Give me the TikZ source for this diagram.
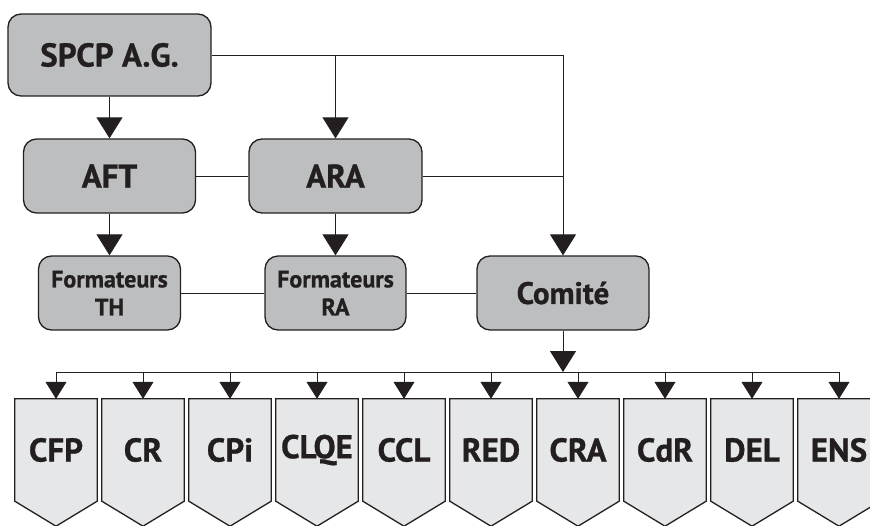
\documentclass[tikz,border=0pt]{standalone}
\usepackage{fontspec}
\setmainfont{PT Sans}[BoldFeatures={FakeBold=0.8}]
\usetikzlibrary{arrows.meta,calc,backgrounds}
\definecolor{boxdark}{HTML}{BCBEC0}
\definecolor{boxlight}{HTML}{E6E7E8}
\definecolor{ink}{HTML}{231F20}
\begin{document}
\begin{tikzpicture}[x=1pt,y=-1pt,
  topbox/.style={draw=ink, line width=1.3pt, fill=boxdark, rounded corners=13pt,
    text=ink, font=\bfseries\fontsize{33}{38}\selectfont, inner sep=0pt, align=center},
  midbox/.style={topbox, font=\bfseries\fontsize{24}{28}\selectfont},
  botbox/.style={text=ink, font=\bfseries\fontsize{33}{38}\selectfont, inner sep=0pt,
    minimum width=82pt, minimum height=102pt},
  botshape/.style={draw=ink, line width=1.3pt, fill=boxlight},
  conn/.style={draw=ink, line width=1pt},
  bigarrow/.style={conn, -{Triangle[width=26pt,length=21pt]}},
  smallarrow/.style={conn, -{Triangle[width=21pt,length=17pt]}}]
\useasboundingbox (0,0) rectangle (870,525);
\clip (0,0) rectangle (870,525);

\node[topbox, minimum width=203pt, minimum height=82pt] (spcp) at (109.5,55) {SPCP A.G.};
\node[topbox, minimum width=172pt, minimum height=74pt] (aft) at (109.5,176) {AFT};
\node[topbox, minimum width=173pt, minimum height=74pt] (ara) at (335.5,176) {ARA};
\node[midbox, minimum width=142pt, minimum height=74pt] (fth) at (109.5,293) {Formateurs\\TH};
\node[midbox, minimum width=141pt, minimum height=74pt] (fra) at (335.5,293) {Formateurs\\RA};
\node[topbox, font=\bfseries\fontsize{31}{36}\selectfont, minimum width=172pt, minimum height=74pt] (comite) at (563,293) {Comité};

\coordinate (tr) at (563,55);
\coordinate (tm) at (335.5,55);
\coordinate (bus) at (563,372);

\draw[bigarrow] (spcp.east) -- (tr) -- (comite.north);
\draw[bigarrow] (tm) -- (ara.north);
\draw[bigarrow] (spcp.south) -- (aft.north);
\draw[conn] (aft.east) -- (ara.west);
\draw[conn] (ara.east) -- (ara.east -| tr);
\draw[bigarrow] (aft.south) -- (fth.north);
\draw[bigarrow] (ara.south) -- (fra.north);
\draw[conn] (fth.east) -- (fra.west);
\draw[conn] (fra.east) -- (comite.west);
\draw[bigarrow] (comite.south) -- (bus);

\foreach \lab [count=\i] in {CFP,CR,CPi,CLQE,CCL,RED,CRA,CdR,DEL,ENS}{
  \node[botbox] (b\i) at ({56+87*(\i-1)},450) {\lab};
  \begin{pgfonlayer}{background}
    \draw[botshape] (b\i.north west) -- (b\i.north east) -- (b\i.south east)
      -- ($(b\i.south)+(0,25)$) -- (b\i.south west) -- cycle;
  \end{pgfonlayer}
  \draw[smallarrow] (b\i.north |- bus) -- (b\i.north);
}
\draw[conn] (b1.north |- bus) -- (b10.north |- bus);
\end{tikzpicture}
\end{document}
